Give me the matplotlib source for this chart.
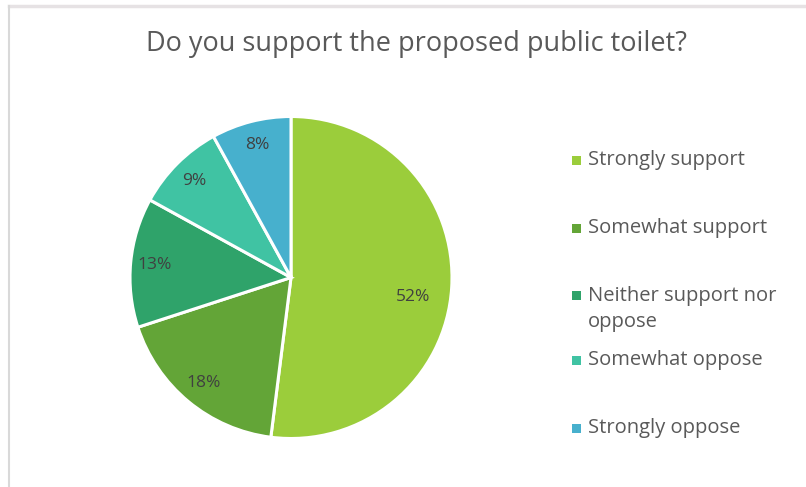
import numpy as np
import matplotlib.pyplot as plt
from matplotlib.patches import Rectangle
from matplotlib.lines import Line2D

title = 'Do you support the proposed public toilet?'
categories = ['Strongly support', 'Somewhat support', 'Neither support nor\noppose',
              'Somewhat oppose', 'Strongly oppose']
shares = [52, 18, 13, 9, 8]
colors = ['#9BCD3B', '#63A537', '#2FA36A', '#40C3A3', '#47B0CD']

plt.rcParams['font.family'] = ['Open Sans', 'DejaVu Sans']

W, H = 806, 487
fig = plt.figure(figsize=(W / 100, H / 100), dpi=100)

# light frame lines at top and left like the screenshot
fig.add_artist(Line2D([8.5 / W, 1], [1 - 6 / H, 1 - 6 / H], color='#E6E2E4', lw=2.5))
fig.add_artist(Line2D([8.5 / W, 8.5 / W], [0, 1 - 6 / H], color='#D9D9D9', lw=1.5))

fig.text(416 / W, 1 - 44 / H, title, ha='center', va='center', fontsize=19.5, color='#595959')

# pie
cx, cy, r = 291, 277.5, 161
ax = fig.add_axes([(cx - r) / W, (H - cy - r) / H, 2 * r / W, 2 * r / H])
wedges, _ = ax.pie(shares, colors=colors, startangle=90, counterclock=False,
                   wedgeprops=dict(edgecolor='white', linewidth=2.2))
ax.set_xlim(-1, 1)
ax.set_ylim(-1, 1)
ax.set_aspect('equal')
ax.axis('off')

for i, (w, v) in enumerate(zip(wedges, shares)):
    ang = np.deg2rad((w.theta1 + w.theta2) / 2)
    d = 0.85
    if i == 0:
        ang -= np.deg2rad(5.5)
        d = 0.77
    ax.text(d * np.cos(ang), d * np.sin(ang), f'{v}%', ha='center', va='center',
            fontsize=12.5, color='#404040')

# legend
leg_y = [160, 228, 309, 360, 428]
for y, lab, c in zip(leg_y, categories, colors):
    ym = y - 14 if '\n' in lab else y
    fig.add_artist(Rectangle(((576 - 4.5) / W, 1 - (ym + 4.5) / H), 9 / W, 9 / H,
                             facecolor=c, edgecolor='none'))
    fig.text(588 / W, 1 - y / H, lab, ha='left', va='center',
             fontsize=14.5, color='#595959', linespacing=1.4)

fig.savefig('out.png', dpi=100)
